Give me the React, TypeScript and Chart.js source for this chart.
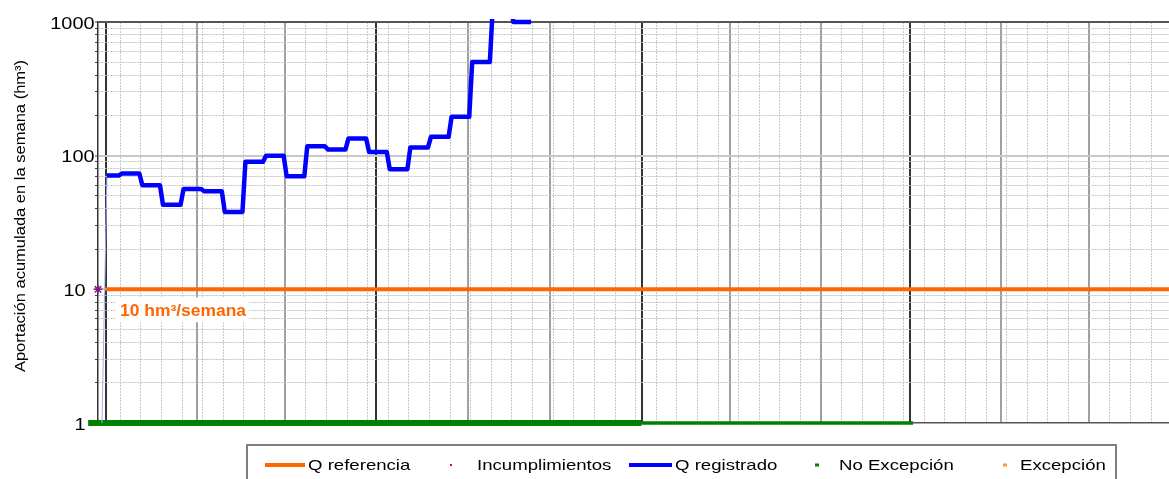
import React, { useEffect, useRef } from 'react';
import { Chart, registerables } from 'chart.js';

Chart.register(...registerables);

// ---- Data (days counted from 1 October) ----
const weekBounds = [0, 5, 12, 19, 26, 33, 40, 47, 54, 61, 68, 75, 82, 89, 96, 103, 110, 117, 124, 131, 138, 145];
const qRegistrado = [71, 73.6, 60, 43, 56.4, 54.2, 37.9, 89.9, 99.7, 70.2, 117.8, 111.3, 134.6, 106.7, 79.2, 115.2, 138.3, 195.3, 501, 1300, 1000];
const arranqueDays = [-1.2, 0.5];
const arranqueValues = [1, 71];
const qReferencia = 10;
const referenciaDays = [0, 364];
const noExcepcionDays = [-5.9, 182, 274.2];
const noExcepcionValue = 1;
const incumplimientoMarkValue = 10;
const monthStartDays = [0, 31, 61, 92, 123, 151, 182, 212, 243, 273, 304, 334];
const quarterStartDays = [0, 92, 182, 273];
const firstSunday = 5;
const yTickValues = [1, 2, 3, 4, 5, 6, 7, 8, 9, 10, 20, 30, 40, 50, 60, 70, 80, 90, 100, 200, 300, 400, 500, 600, 700, 800, 900, 1000];
const yTickLabels = ['1', '10', '100', '1000'];
const yMajorValues = [1, 10, 100, 1000];
const referenciaLabel = '10 hm\u00b3/semana';
const yTitle = 'Aportación acumulada en la semana (hm\u00b3)';
const legendLabels = ['Q referencia', 'Incumplimientos', 'Q registrado', 'No Excepción', 'Excepción'];

const X_MIN = -2.55;
const X_MAX = 361.1;
const FONT = '"Liberation Sans", Arial, sans-serif';

const weeklyDays: number[] = [];
for (let d = firstSunday; d < X_MAX; d += 7) {
  if (!monthStartDays.includes(d)) weeklyDays.push(d);
}
const xGridDays = [...monthStartDays, ...weeklyDays].sort((a, b) => a - b);

function stretchText(ctx: CanvasRenderingContext2D, text: string, x: number, y: number, font: string, sx: number, align: CanvasTextAlign, color: string) {
  ctx.save();
  ctx.font = font;
  ctx.fillStyle = color;
  ctx.textAlign = align;
  ctx.textBaseline = 'middle';
  ctx.translate(x, y);
  ctx.scale(sx, 1);
  ctx.fillText(text, 0, 0);
  ctx.restore();
}

const decorPlugin = {
  id: 'decor',
  afterDraw(chart: any) {
    const ctx: CanvasRenderingContext2D = chart.ctx;
    const yScale = chart.scales.y;

    // y tick labels
    yMajorValues.forEach((v, i) => {
      const py = yScale.getPixelForValue(v);
      const right = v >= 100 ? 94.5 : 85.5;
      stretchText(ctx, yTickLabels[i], right, py + 2, `17px ${FONT}`, 1.17, 'right', '#000');
    });

    // y title
    ctx.save();
    ctx.font = `14px ${FONT}`;
    ctx.fillStyle = '#000';
    ctx.textAlign = 'center';
    ctx.textBaseline = 'alphabetic';
    ctx.translate(25, 216);
    ctx.rotate(-Math.PI / 2);
    ctx.scale(1.18, 1);
    ctx.fillText(yTitle, 0, 0);
    ctx.restore();

    // reference label
    const refY = yScale.getPixelForValue(qReferencia);
    ctx.save();
    ctx.fillStyle = '#ffffff';
    ctx.fillRect(115, refY + 8, 134, 25);
    ctx.restore();
    stretchText(ctx, referenciaLabel, 120, refY + 22, `bold 16px ${FONT}`, 1.09, 'left', '#ff6600');

    // legend
    ctx.save();
    ctx.strokeStyle = '#7f7f7f';
    ctx.lineWidth = 2;
    ctx.strokeRect(247, 445, 869, 60);
    ctx.restore();
    const ly = 465;
    ctx.save();
    ctx.lineCap = 'butt';
    ctx.lineWidth = 4;
    ctx.strokeStyle = '#ff6600';
    ctx.beginPath(); ctx.moveTo(265, ly); ctx.lineTo(305, ly); ctx.stroke();
    ctx.strokeStyle = '#0000ff';
    ctx.beginPath(); ctx.moveTo(629, ly); ctx.lineTo(672, ly); ctx.stroke();
    ctx.fillStyle = '#ff0000';
    ctx.fillRect(450, ly - 1, 2, 2);
    ctx.fillStyle = '#007f00';
    ctx.fillRect(815, ly - 1.5, 4, 3);
    ctx.fillStyle = '#ff9933';
    ctx.fillRect(1003, ly - 1.5, 4, 3);
    ctx.restore();
    const lx = [308, 477, 675, 839, 1020];
    legendLabels.forEach((t, i) => stretchText(ctx, t, lx[i], ly + 0.5, `15px ${FONT}`, 1.24, 'left', '#000'));
  },
};

const isQuarter = (v: number) => quarterStartDays.includes(v);
const isMonth = (v: number) => monthStartDays.includes(v);

export default function App() {
  const ref = useRef<HTMLCanvasElement | null>(null);

  useEffect(() => {
    if (!ref.current) return;
    const registradoPoints = qRegistrado.flatMap((v, i) => [
      { x: weekBounds[i] + 0.5, y: v },
      { x: weekBounds[i + 1] - 0.5, y: v },
    ]);
    const chart = new Chart(ref.current, {
      type: 'line',
      data: {
        datasets: [
          {
            label: 'Incumplimientos',
            data: [{ x: X_MIN, y: incumplimientoMarkValue }],
            showLine: false,
            pointStyle: 'star',
            pointRadius: 4.5,
            pointBorderColor: '#802080',
            pointBackgroundColor: '#802080',
            pointBorderWidth: 1.5,
            clip: false,
          } as any,
          {
            label: 'Q registrado',
            data: registradoPoints,
            borderColor: '#0000ff',
            borderWidth: 4.5,
            pointRadius: 0,
            borderJoinStyle: 'round',
            clip: { left: 0, top: 3, right: 0, bottom: 0 },
          } as any,
          {
            label: 'arranque',
            data: arranqueDays.map((d, i) => ({ x: d, y: arranqueValues[i] })),
            borderColor: '#a8a8ff',
            borderWidth: 1,
            pointRadius: 0,
          },
          {
            label: 'Q referencia',
            data: referenciaDays.map((d) => ({ x: d, y: qReferencia })),
            borderColor: '#ff6600',
            borderWidth: 4,
            pointRadius: 0,
          },
          {
            label: 'No Excepción',
            data: noExcepcionDays.slice(0, 2).map((d) => ({ x: d, y: noExcepcionValue })),
            borderColor: '#007f00',
            borderWidth: 6,
            pointRadius: 0,
            clip: false,
          } as any,
          {
            label: 'No Excepción 2',
            data: noExcepcionDays.slice(1, 3).map((d) => ({ x: d, y: noExcepcionValue })),
            borderColor: '#007f00',
            borderWidth: 3.5,
            pointRadius: 0,
            clip: false,
          } as any,
        ],
      },
      options: {
        responsive: false,
        animation: false,
        events: [],
        layout: { autoPadding: false, padding: { top: 22, left: 0, right: 0, bottom: 0 } },
        plugins: { legend: { display: false }, tooltip: { enabled: false }, title: { display: false } },
        scales: {
          x: {
            type: 'linear',
            min: X_MIN,
            max: X_MAX,
            afterBuildTicks: (s: any) => { s.ticks = xGridDays.map((v) => ({ value: v })); },
            afterFit: (s: any) => { s.height = 56; },
            ticks: { display: false },
            grid: {
              drawTicks: false,
              color: (c: any) => {
                const v = c.tick?.value;
                if (v === undefined) return '#999';
                if (isQuarter(v)) return '#333333';
                if (isMonth(v)) return '#a0a0a0';
                return '#c8c8c8';
              },
              lineWidth: (c: any) => {
                const v = c.tick?.value;
                if (v !== undefined && isMonth(v)) return 2;
                return 1;
              },
            },
            border: {
              display: true,
              color: '#555',
              width: 1.5,
              dash: (c: any) => {
                const v = c.tick?.value;
                if (v === undefined || isMonth(v)) return [];
                return [2, 1];
              },
            },
          } as any,
          y: {
            type: 'logarithmic',
            min: 1,
            max: 1000,
            afterBuildTicks: (s: any) => { s.ticks = yTickValues.map((v) => ({ value: v })); },
            afterFit: (s: any) => { s.width = 98; },
            ticks: { display: false, autoSkip: false },
            grid: {
              drawTicks: true,
              tickLength: 3,
              tickColor: '#444',
              tickWidth: 1,
              color: (c: any) => {
                const v = c.tick?.value;
                if (v === 1000) return '#555555';
                if (v === 1) return 'rgba(0,0,0,0)';
                if (v === 10 || v === 100) return '#c8c8c8';
                return '#c4c4c4';
              },
              lineWidth: (c: any) => {
                const v = c.tick?.value;
                if (v === 1000 || v === 10 || v === 100) return 2;
                return 1;
              },
            },
            border: {
              display: true,
              color: '#333',
              width: 1.5,
              dash: (c: any) => {
                const v = c.tick?.value;
                if (v === undefined || yMajorValues.includes(v)) return [];
                return [2, 1];
              },
            },
          } as any,
        },
      },
      plugins: [decorPlugin],
    });
    return () => chart.destroy();
  }, []);

  return (
    <div style={{ position: 'fixed', left: 0, top: 0, width: 1169, height: 479, background: '#fff' }}>
      <canvas ref={ref} width={1169} height={479} style={{ display: 'block' }} />
    </div>
  );
}
